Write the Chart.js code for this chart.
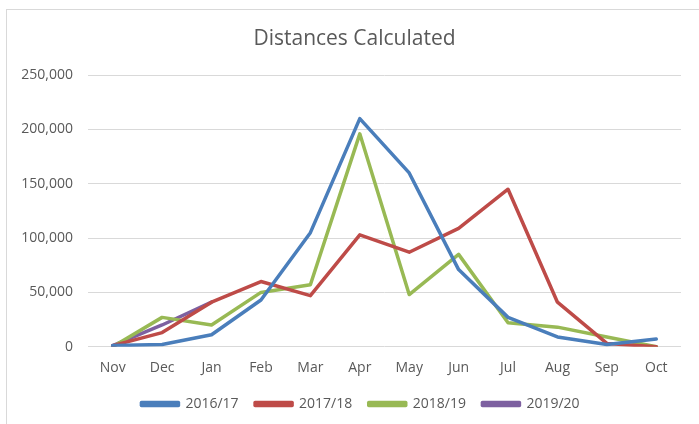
<!DOCTYPE html>
<html>
<head>
<meta charset="utf-8">
<script src="https://cdn.jsdelivr.net/npm/chart.js@4.4.1/dist/chart.umd.min.js"></script>
<style>
  html, body { margin: 0; padding: 0; background: #fff; }
  #wrap { position: relative; width: 699px; height: 424px; overflow: hidden; }
  #frame { position: absolute; left: 6px; top: 9px; width: 720px; height: 440px; border: 1px solid #d9d9d9; box-sizing: border-box; }
  canvas { position: absolute; left: 0; top: 0; }
</style>
</head>
<body>
<div id="wrap">
  <div id="frame"></div>
  <canvas id="chart" width="699" height="424"></canvas>
</div>
<script>
// Months of the season, Nov to Oct
const months = ["Nov", "Dec", "Jan", "Feb", "Mar", "Apr", "May", "Jun", "Jul", "Aug", "Sep", "Oct"];

// Distances calculated per season
const season1617 = [1000, 2000, 11000, 43000, 105000, 210000, 160000, 71000, 27000, 9000, 2000, 7000];
const season1718 = [1000, 13000, 41000, 60000, 47000, 103000, 87000, 109000, 145000, 41000, 3000, 0];
const season1819 = [0, 27000, 20000, 50000, 57000, 196000, 48000, 85000, 22000, 18000, 9000, 0];
const season1920 = [1000, 20000, 41000, null, null, null, null, null, null, null, null, null];

const yTicks = [0, 50000, 100000, 150000, 200000, 250000];

const textColor = "#595959";
const fontFamily = "'Open Sans', 'Liberation Sans', sans-serif";

function series(label, data, color) {
    return {
        label: label,
        data: data,
        borderColor: color,
        backgroundColor: color,
        borderWidth: 3.5,
        borderJoinStyle: "round",
        borderCapStyle: "round",
        pointRadius: 0,
        pointHoverRadius: 0,
        tension: 0,
        spanGaps: false
    };
}

// Title and legend sit a little right of the plot centre, like the original
const nudgeBlocks = {
    id: "nudgeBlocks",
    afterLayout(chart) {
        if (chart.titleBlock) {
            chart.titleBlock.left += 14;
            chart.titleBlock.right += 14;
        }
        if (chart.legend) {
            chart.legend.left += 20;
            chart.legend.right += 20;
        }
    }
};

const ctx = document.getElementById("chart").getContext("2d");

new Chart(ctx, {
    type: "line",
    data: {
        labels: months,
        datasets: [
            series("2016/17", season1617, "#4a7ebb"),
            series("2017/18", season1718, "#be4b48"),
            series("2018/19", season1819, "#98b954"),
            series("2019/20", season1920, "#7d60a0")
        ]
    },
    plugins: [nudgeBlocks],
    options: {
        responsive: false,
        animation: false,
        layout: {
            padding: { left: 0, right: 18, top: 0, bottom: 3 }
        },
        scales: {
            x: {
                offset: true,
                afterFit: scale => {
                    // leave room for the wider legend spacing
                    scale.height -= 9;
                },
                grid: { display: false, drawTicks: false },
                border: { display: false },
                ticks: {
                    color: textColor,
                    font: { family: fontFamily, size: 14 },
                    padding: 13
                }
            },
            y: {
                min: 0,
                max: 250000,
                afterBuildTicks: scale => {
                    scale.ticks = yTicks.map(v => ({ value: v }));
                },
                afterFit: scale => {
                    scale.width = 88;
                },
                grid: { color: "#d9d9d9", lineWidth: 1, drawTicks: false },
                border: { display: false },
                ticks: {
                    color: textColor,
                    font: { family: fontFamily, size: 14 },
                    padding: 15,
                    callback: v => v.toLocaleString("en-US")
                }
            }
        },
        plugins: {
            title: {
                display: true,
                text: "Distances Calculated",
                color: textColor,
                font: { family: fontFamily, size: 21, weight: "normal" },
                padding: { top: 26, bottom: 24 }
            },
            legend: {
                position: "bottom",
                labels: {
                    color: textColor,
                    font: { family: fontFamily, size: 14 },
                    boxWidth: 37,
                    boxHeight: 3,
                    padding: 16.5
                }
            },
            tooltip: { enabled: false }
        }
    }
});
</script>
</body>
</html>
